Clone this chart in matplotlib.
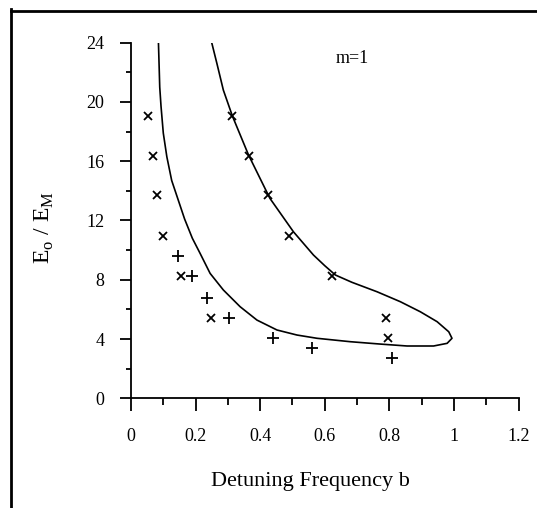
import matplotlib
matplotlib.use('Agg')
import matplotlib.pyplot as plt
from matplotlib.lines import Line2D
from matplotlib.ticker import MultipleLocator

plt.rcParams['font.family'] = ['Liberation Serif', 'DejaVu Serif']
plt.rcParams['mathtext.fontset'] = 'custom'
plt.rcParams['mathtext.rm'] = 'Liberation Serif'

# Theory curve (one continuous line: left branch down, loop, right branch up)
curve_b = [0.085, 0.087, 0.089, 0.093, 0.100, 0.111, 0.126, 0.146, 0.166, 0.190,
           0.214, 0.245, 0.286, 0.338, 0.390, 0.452, 0.514, 0.576, 0.679, 0.772,
           0.855, 0.937, 0.979, 0.994, 0.984, 0.948, 0.896, 0.834, 0.762, 0.684,
           0.633, 0.600, 0.565, 0.503, 0.430, 0.364, 0.314, 0.286, 0.266, 0.250]
curve_e = [24.0, 22.5, 21.0, 19.7, 17.9, 16.3, 14.7, 13.4, 12.1, 10.8,
           9.78, 8.43, 7.31, 6.18, 5.28, 4.61, 4.27, 4.05, 3.82, 3.66,
           3.53, 3.53, 3.71, 4.05, 4.49, 5.17, 5.84, 6.52, 7.19, 7.83,
           8.32, 8.95, 9.67, 11.24, 13.50, 16.42, 19.05, 20.8, 22.6, 24.0]

# Measured points
x_b = [0.054, 0.067, 0.080, 0.098, 0.154, 0.248,
       0.314, 0.364, 0.423, 0.490, 0.622, 0.790, 0.795]
x_e = [19.05, 16.37, 13.72, 10.97, 8.25, 5.44,
       19.05, 16.37, 13.72, 10.97, 8.25, 5.40, 4.05]
p_b = [0.147, 0.188, 0.235, 0.304, 0.441, 0.560, 0.808]
p_e = [9.60, 8.25, 6.75, 5.44, 4.09, 3.37, 2.70]

fig = plt.figure(figsize=(5.37, 5.08), dpi=100)
ax = fig.add_axes([131 / 537, 1 - 398.3 / 508, 387.5 / 537, 355.6 / 508])

ax.plot(curve_b, curve_e, color='black', lw=1.2)
ax.plot(x_b, x_e, ls='none', marker='x', ms=6, mew=1.3, color='black')
ax.plot(p_b, p_e, ls='none', marker='+', ms=9, mew=1.3, color='black')

ax.set_xlim(0, 1.2)
ax.set_ylim(0, 24)
ax.xaxis.set_major_locator(MultipleLocator(0.2))
ax.xaxis.set_minor_locator(MultipleLocator(0.1))
ax.yaxis.set_major_locator(MultipleLocator(4))
ax.yaxis.set_minor_locator(MultipleLocator(2))
ax.xaxis.set_major_formatter(plt.FuncFormatter(lambda v, p: f'{v:g}'))

for s in ['top', 'right']:
    ax.spines[s].set_visible(False)
for s in ['left', 'bottom']:
    ax.spines[s].set_linewidth(1.3)

ax.tick_params(axis='x', which='major', direction='out', length=9.5, width=1.3,
               pad=12, labelsize=13)
ax.tick_params(axis='x', which='minor', direction='out', length=5, width=1.3)
ax.tick_params(axis='y', which='major', direction='out', length=8, width=1.3,
               pad=11, labelsize=13)
ax.tick_params(axis='y', which='minor', direction='out', length=3.5, width=1.3)

ax.set_xlabel('Detuning Frequency b', fontsize=16)
ax.xaxis.set_label_coords(0.462, -0.235)
ax.xaxis.label.set_va('center')
ax.set_ylabel(r'E$_\mathregular{o}$ / E$_\mathregular{M}$', fontsize=17)
ax.yaxis.set_label_coords(-0.223, 0.48)
ax.yaxis.label.set_va('center')

ax.text(0.684, 22.9, 'm=1', fontsize=13, ha='center', va='center')

# Outer frame lines (top and left only)
fig.add_artist(Line2D([11.3 / 537, 1.0], [1 - 10.7 / 508] * 2,
                      transform=fig.transFigure, color='black', lw=2.0))
fig.add_artist(Line2D([11.3 / 537] * 2, [0, 1 - 9.4 / 508],
                      transform=fig.transFigure, color='black', lw=2.0))

fig.savefig('out.png', dpi=100)
